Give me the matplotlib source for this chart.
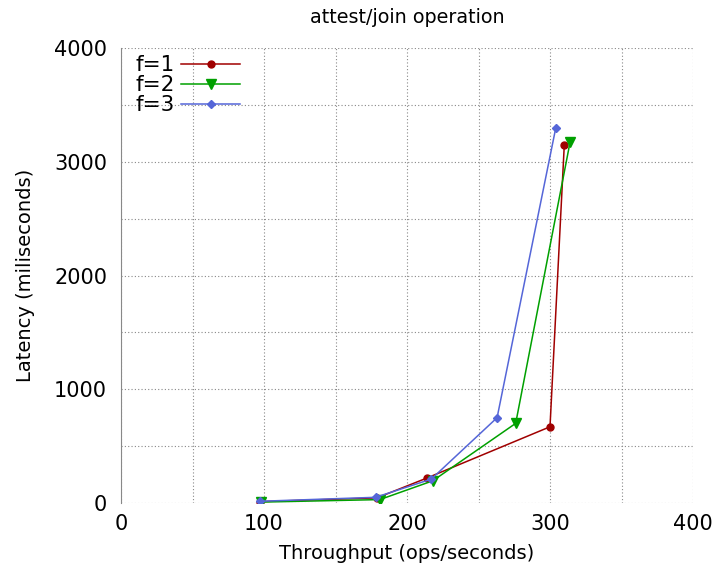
import matplotlib
matplotlib.use("Agg")
from matplotlib import pyplot as plt

# data
thr_f1 = [97, 179, 214, 300, 310]
lat_f1 = [12, 45, 220, 670, 3150]

thr_f2 = [98, 181, 218, 276, 314]
lat_f2 = [8, 30, 195, 700, 3170]

thr_f3 = [97, 178, 217, 263, 304]
lat_f3 = [15, 50, 210, 750, 3295]

labels = ["f=1", "f=2", "f=3"]
colors = ["#a00000", "#00a000", "#5566d8"]
markers = ["o", "v", "D"]

fig = plt.figure(figsize=(7.13, 5.65), dpi=100)
ax = fig.add_axes([121 / 713, 1 - 503 / 565, 572 / 713, 455 / 565])

series = [(thr_f1, lat_f1), (thr_f2, lat_f2), (thr_f3, lat_f3)]
sizes = [5, 6.5, 4]
for (x, y), lab, col, mk, ms in zip(series, labels, colors, markers, sizes):
    ax.plot(x, y, color=col, marker=mk, markersize=ms, linewidth=1.1, label=lab)

ax.set_xlim(0, 400)
ax.set_ylim(0, 4000)
ax.set_xticks(range(0, 401, 100))
ax.set_xticks(range(0, 401, 50), minor=True)
ax.set_yticks(range(0, 4001, 1000))
ax.set_yticks(range(0, 4001, 500), minor=True)
ax.tick_params(which="both", length=0, labelsize=15)
ax.tick_params(axis="x", pad=8)
ax.tick_params(axis="y", pad=10)
ax.grid(which="both", color="#888888", linestyle=(0, (1, 2)), linewidth=0.8)

for side in ["top", "right", "bottom"]:
    ax.spines[side].set_visible(False)
ax.spines["left"].set_color("#888888")

ax.set_title("attest/join operation", fontsize=13.8, pad=18)
ax.set_xlabel("Throughput (ops/seconds)", fontsize=14, labelpad=7)
ax.set_ylabel("Latency (miliseconds)", fontsize=14, labelpad=14)

leg = ax.legend(loc="upper left", markerfirst=False, frameon=False, fontsize=15.5,
                handlelength=2.75, labelspacing=0.0, borderaxespad=0.0,
                handletextpad=0.3, bbox_to_anchor=(0.01, 1.003))

fig.savefig("out.png", dpi=100)
